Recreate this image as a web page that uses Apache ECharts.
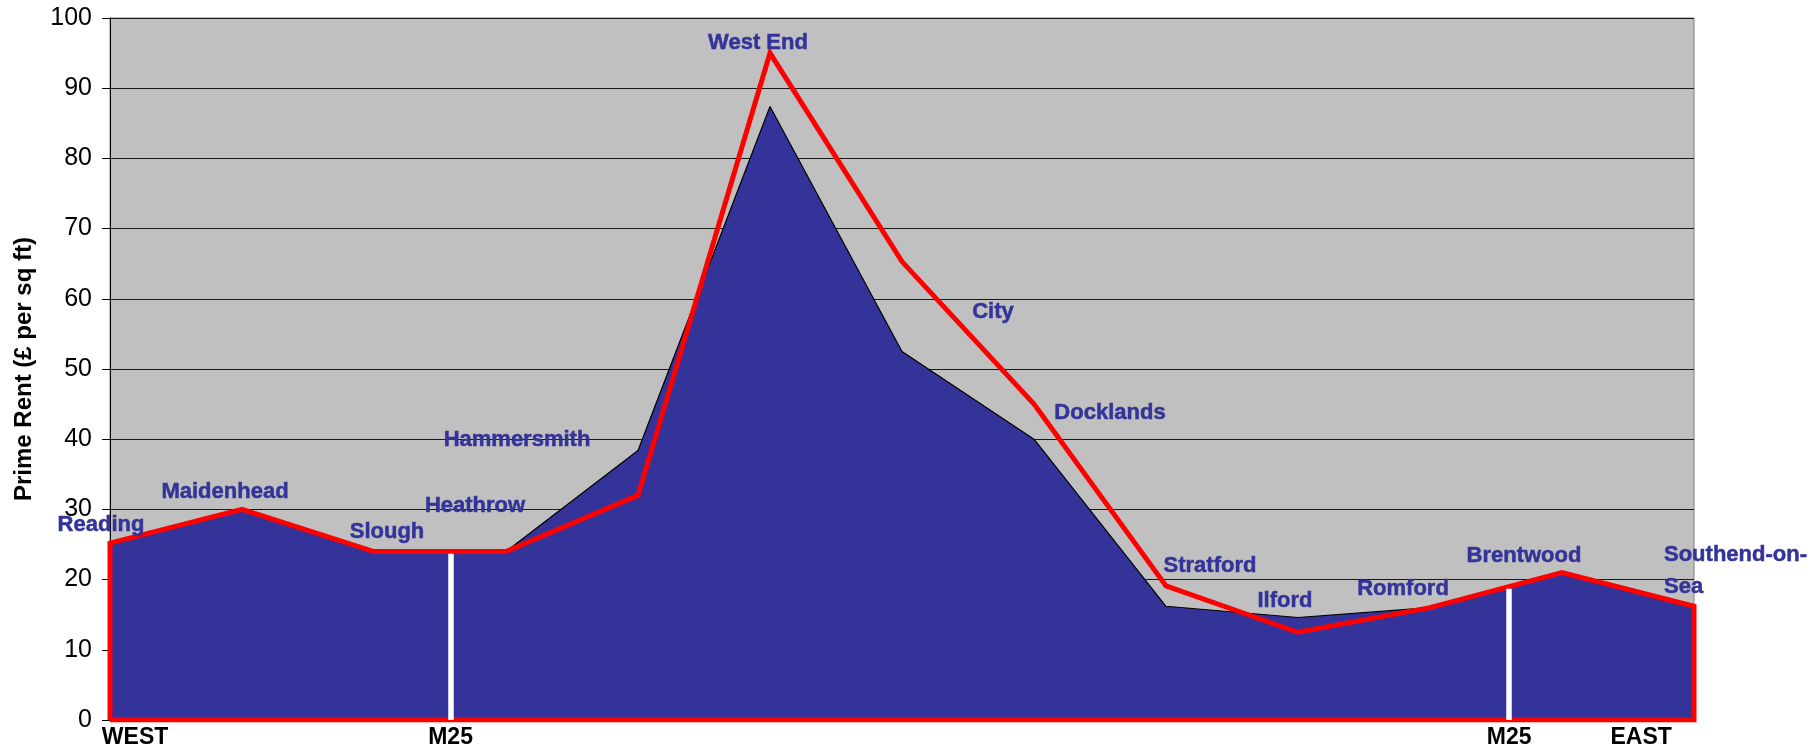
<!DOCTYPE html>
<html>
<head>
<meta charset="utf-8">
<script src="https://cdn.jsdelivr.net/npm/echarts@6/dist/echarts.min.js"></script>
<style>
  html, body { margin: 0; padding: 0; background: #ffffff; }
  #chart { width: 1820px; height: 752px; }
</style>
</head>
<body>
<div id="chart"></div>
<script>
// Towns along the west-east corridor through London
const towns = ['Reading', 'Maidenhead', 'Slough', 'Heathrow', 'Hammersmith', 'West End', 'City',
  'Docklands', 'Stratford', 'Ilford', 'Romford', 'Brentwood', 'Southend-on-\nSea'];

// Prime rent, £ per sq ft (filled profile and red outline)
const rentArea = [25, 30, 24, 24, 38.4, 87.4, 52.5, 40, 16.2, 14.6, 16, 21, 16.2];
const rentLine = [25.2, 30, 24, 24, 32, 95, 65.3, 45, 19.1, 12.5, 16, 21, 16.2];

// M25 crossings along the corridor and the height of each marker
const m25Positions = [2.58, 10.6];
const m25Heights = [23.7, 18.7];

// Bottom axis captions
const xCaptionValues = [0.19, 2.58, 10.6, 11.6];
const xCaptionLabels = ['WEST', 'M25', 'M25', 'EAST'];

// Y axis ticks
const yMin = 0, yMax = 100, yStep = 10;

// Placement of each town name relative to its point (px)
const labelOffsets = [[-9, -20], [-17, -17], [13, -20], [-31, -46], [-121, -10], [-12, -64],
  [91, -40], [76, -26], [44, -40], [-13, -17], [-27, -19], [-38, -17], [-30, -35]];

const FONT = "'Liberation Sans', Arial, Helvetica, sans-serif";
const BLUE = '#333399';

const areaData = rentArea.map((v, i) => [i, v]);
const outlineData = [[0, 0]]
  .concat(rentLine.map((v, i) => [i, v]))
  .concat([[rentLine.length - 1, 0], [0, 0]]);

const labelData = rentArea.map((v, i) => {
  const last = i === towns.length - 1;
  return {
    value: [i, v],
    name: towns[i],
    label: {
      offset: labelOffsets[i],
      align: last ? 'left' : 'center'
    }
  };
});

const m25Lines = m25Positions.map((x, i) => [
  { coord: [x, 0] },
  { coord: [x, m25Heights[i]] }
]);

const chart = echarts.init(document.getElementById('chart'), null, { renderer: 'canvas' });

chart.setOption({
  animation: false,
  backgroundColor: '#ffffff',
  grid: {
    left: 110, right: 126, top: 18, bottom: 32,
    show: true,
    backgroundColor: '#c0c0c0',
    borderColor: '#808080',
    borderWidth: 1
  },
  xAxis: {
    type: 'value',
    min: 0,
    max: towns.length - 1,
    axisLine: { show: false },
    axisTick: { show: false },
    splitLine: { show: false },
    axisLabel: {
      customValues: xCaptionValues,
      margin: 6,
      fontFamily: FONT,
      fontSize: 23,
      fontWeight: 'bold',
      color: (val) => {
        const idx = xCaptionValues.indexOf(val);
        return xCaptionLabels[idx] === 'M25' ? BLUE : '#000000';
      },
      formatter: (val) => {
        const idx = xCaptionValues.indexOf(val);
        return idx >= 0 ? xCaptionLabels[idx] : '';
      }
    }
  },
  yAxis: {
    type: 'value',
    min: yMin,
    max: yMax,
    interval: yStep,
    name: 'Prime Rent (£ per sq ft)',
    nameLocation: 'middle',
    nameGap: 74,
    nameTextStyle: { fontFamily: FONT, fontSize: 24, fontWeight: 'bold', color: '#000000' },
    axisLine: { show: true, lineStyle: { color: '#000000', width: 1 } },
    axisTick: { show: true, length: 8, lineStyle: { color: '#000000' } },
    axisLabel: { margin: 18, fontFamily: FONT, fontSize: 25, color: '#000000' },
    splitLine: { show: true, lineStyle: { color: '#1a1a1a', width: 1 } }
  },
  series: [
    {
      name: 'Prime rent',
      type: 'line',
      data: areaData,
      symbol: 'none',
      z: 2,
      lineStyle: { color: '#000000', width: 1.2 },
      areaStyle: { color: BLUE, opacity: 1 }
    },
    {
      name: 'Prime rent outline',
      type: 'line',
      data: outlineData,
      symbol: 'none',
      z: 3,
      lineStyle: { color: '#ff0000', width: 5, join: 'miter' }
    },
    {
      name: 'M25',
      type: 'line',
      data: [],
      z: 4,
      markLine: {
        silent: true,
        symbol: ['none', 'none'],
        label: { show: false },
        lineStyle: { color: '#ffffff', width: 5.5, type: 'solid' },
        data: m25Lines
      }
    },
    {
      name: 'Towns',
      type: 'scatter',
      data: labelData,
      symbolSize: 1,
      z: 5,
      itemStyle: { color: 'rgba(0,0,0,0)', opacity: 1 },
      label: {
        show: true,
        position: 'inside',
        formatter: (p) => p.name,
        fontFamily: FONT,
        fontSize: 22,
        fontWeight: 'bold',
        color: BLUE,
        textBorderColor: BLUE,
        textBorderWidth: 0.5,
        lineHeight: 32
      }
    }
  ]
});
</script>
</body>
</html>
